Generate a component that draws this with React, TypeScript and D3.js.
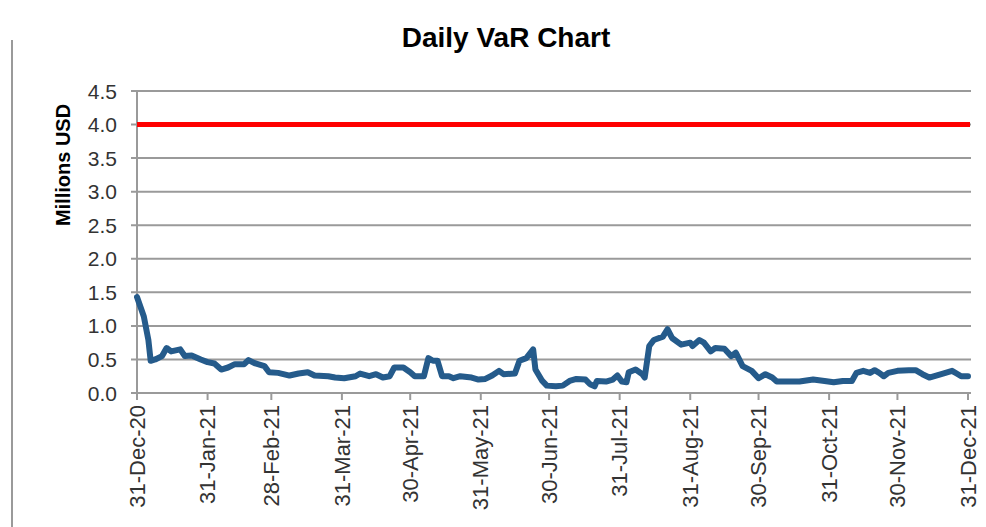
import * as d3 from "d3";

const dates = [
  "2020-12-31", "2021-01-03", "2021-01-05", "2021-01-06", "2021-01-08", "2021-01-11", "2021-01-13", "2021-01-15",
  "2021-01-19", "2021-01-21", "2021-01-24", "2021-01-28", "2021-01-31", "2021-02-03", "2021-02-06", "2021-02-09",
  "2021-02-12", "2021-02-16", "2021-02-18", "2021-02-21", "2021-02-25", "2021-02-27", "2021-03-03", "2021-03-08",
  "2021-03-12", "2021-03-16", "2021-03-19", "2021-03-25", "2021-03-28", "2021-04-01", "2021-04-06", "2021-04-08",
  "2021-04-12", "2021-04-15", "2021-04-18", "2021-04-21", "2021-04-23", "2021-04-27", "2021-04-30", "2021-05-02",
  "2021-05-06", "2021-05-08", "2021-05-10", "2021-05-12", "2021-05-14", "2021-05-17", "2021-05-19", "2021-05-22",
  "2021-05-27", "2021-05-30", "2021-06-02", "2021-06-05", "2021-06-08", "2021-06-10", "2021-06-15", "2021-06-17",
  "2021-06-20", "2021-06-23", "2021-06-24", "2021-06-27", "2021-06-29", "2021-07-03", "2021-07-06", "2021-07-09",
  "2021-07-12", "2021-07-16", "2021-07-18", "2021-07-20", "2021-07-21", "2021-07-25", "2021-07-28", "2021-07-30",
  "2021-08-01", "2021-08-03", "2021-08-04", "2021-08-07", "2021-08-10", "2021-08-11", "2021-08-13", "2021-08-15",
  "2021-08-19", "2021-08-21", "2021-08-23", "2021-08-27", "2021-08-31", "2021-09-01", "2021-09-04", "2021-09-06",
  "2021-09-09", "2021-09-11", "2021-09-15", "2021-09-18", "2021-09-20", "2021-09-23", "2021-09-27", "2021-09-30",
  "2021-10-03", "2021-10-06", "2021-10-08", "2021-10-12", "2021-10-18", "2021-10-24", "2021-10-29", "2021-11-02",
  "2021-11-06", "2021-11-10", "2021-11-12", "2021-11-15", "2021-11-18", "2021-11-20", "2021-11-22", "2021-11-24",
  "2021-11-26", "2021-11-30", "2021-12-05", "2021-12-08", "2021-12-11", "2021-12-14", "2021-12-17", "2021-12-20",
  "2021-12-24", "2021-12-26", "2021-12-28", "2021-12-31",
];

const varValues = [
  1.43, 1.14, 0.79, 0.48, 0.50, 0.55, 0.67, 0.62,
  0.65, 0.55, 0.56, 0.50, 0.46, 0.44, 0.35, 0.38,
  0.43, 0.43, 0.49, 0.44, 0.40, 0.31, 0.30, 0.26,
  0.29, 0.31, 0.26, 0.25, 0.23, 0.22, 0.25, 0.29,
  0.25, 0.28, 0.23, 0.25, 0.38, 0.38, 0.31, 0.25,
  0.25, 0.52, 0.48, 0.48, 0.25, 0.25, 0.22, 0.25,
  0.23, 0.20, 0.21, 0.26, 0.33, 0.28, 0.29, 0.48,
  0.52, 0.65, 0.35, 0.18, 0.11, 0.10, 0.11, 0.18,
  0.21, 0.20, 0.13, 0.10, 0.18, 0.17, 0.20, 0.26,
  0.17, 0.16, 0.31, 0.35, 0.28, 0.23, 0.70, 0.79,
  0.84, 0.95, 0.82, 0.72, 0.75, 0.70, 0.79, 0.75,
  0.62, 0.67, 0.66, 0.55, 0.60, 0.40, 0.33, 0.22,
  0.28, 0.23, 0.17, 0.17, 0.17, 0.20, 0.18, 0.16,
  0.18, 0.18, 0.30, 0.33, 0.30, 0.34, 0.30, 0.25,
  0.30, 0.33, 0.34, 0.34, 0.28, 0.23, 0.26, 0.29,
  0.33, 0.29, 0.25, 0.25,
];

const limitValue = 4.0;

const tickDates = [
  "2020-12-31", "2021-01-31", "2021-02-28", "2021-03-31", "2021-04-30", "2021-05-31", "2021-06-30",
  "2021-07-31", "2021-08-31", "2021-09-30", "2021-10-31", "2021-11-30", "2021-12-31",
];

const yTicks = [0, 0.5, 1, 1.5, 2, 2.5, 3, 3.5, 4, 4.5];

const parse = d3.timeParse("%Y-%m-%d");
const fmtTick = d3.timeFormat("%d-%b-%y");

const W = 986;
const H = 527;
const left = 137;
const right = 968;
const top = 91;
const bottom = 393;
const labelFont = "'Liberation Sans', Arial, sans-serif";

export default function App() {
  const data = dates.map((d, i) => ({ date: parse(d) as Date, value: varValues[i] }));

  const x = d3.scaleTime()
    .domain([parse(tickDates[0]) as Date, parse(tickDates[tickDates.length - 1]) as Date])
    .range([left, right]);
  const y = d3.scaleLinear().domain([0, 4.5]).range([bottom, top]);

  const line = d3.line<{ date: Date; value: number }>()
    .x(d => x(d.date))
    .y(d => y(d.value));

  return (
    <svg width={W} height={H} style={{ position: "absolute", left: 0, top: 0, background: "#fff" }}>
      {/* bordure à gauche */}
      <line x1={12} x2={12} y1={40} y2={H} stroke="#9a9a9a" strokeWidth={2} />

      <text x={506} y={47} textAnchor="middle" fontFamily={labelFont} fontWeight="bold" fontSize={28}
        fill="#000">
        Daily VaR Chart
      </text>

      {/* grille horizontale */}
      {yTicks.map(t => (
        <g key={t}>
          <line x1={left - 6} x2={right + 3} y1={y(t)} y2={y(t)} stroke="#9a9a9a" strokeWidth={2} />
          <text x={117} y={y(t)} dy="0.36em" textAnchor="end" fontFamily={labelFont} fontSize={21} fill="#333">
            {t.toFixed(1)}
          </text>
        </g>
      ))}

      {/* axe vertical */}
      <line x1={left} x2={left} y1={top} y2={bottom} stroke="#9a9a9a" strokeWidth={2} />

      {/* marques et étiquettes de l'axe des X */}
      {tickDates.map(d => {
        const xp = x(parse(d) as Date);
        return (
          <g key={d}>
            <line x1={xp} x2={xp} y1={bottom} y2={bottom + 7} stroke="#9a9a9a" strokeWidth={2} />
            <text transform={`translate(${xp},${bottom + 12}) rotate(-90)`} textAnchor="end" dy="0.35em"
              fontFamily={labelFont} fontSize={22} fill="#333">
              {fmtTick(parse(d) as Date)}
            </text>
          </g>
        );
      })}

      <text transform={`translate(63,165) rotate(-90)`} textAnchor="middle" dy="0.35em"
        fontFamily={labelFont} fontWeight="bold" fontSize={20} fill="#000">
        Millions USD
      </text>

      {/* limite */}
      <line x1={left} x2={right + 2} y1={y(limitValue)} y2={y(limitValue)} stroke="#ff0000" strokeWidth={5} />

      <path d={line(data) ?? ""} fill="none" stroke="#255b8b" strokeWidth={6}
        strokeLinejoin="round" strokeLinecap="round" />
    </svg>
  );
}
